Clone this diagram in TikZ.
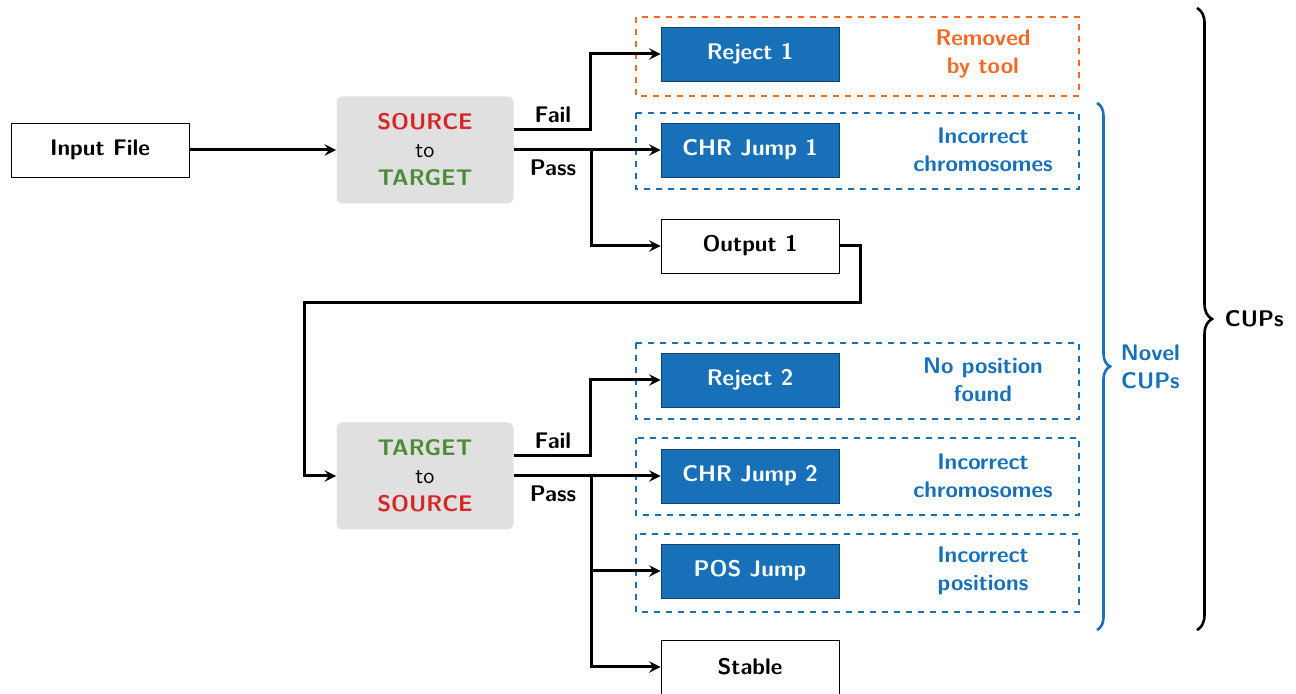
\documentclass[tikz,border=0pt]{standalone}
\usetikzlibrary{shapes,decorations.pathreplacing}
\usepackage{amsthm,amssymb,amsmath}

\definecolor{cupblue}{RGB}{23,112,184}
\definecolor{cuporange}{RGB}{242,107,40}
\definecolor{cupred}{RGB}{214,39,40}
\definecolor{cupgreen}{RGB}{74,140,55}

\begin{document}
\begin{tikzpicture}[x=0.5pt,y=-0.5pt,
    font=\sffamily\bfseries\fontsize{11.3}{14}\selectfont,
    %
    file/.style={rectangle, draw, fill=white, line width=0.4pt,
    minimum width=89pt, minimum height=27pt},
    jump/.style={file, fill=cupblue, draw=cupblue!60!black, text=white},
    liftover/.style={rectangle, rounded corners=3pt, fill=black!12,
    minimum width=88.5pt, minimum height=53.5pt, align=center},
    note/.style={align=center, text=cupblue},
    region/.style={draw=cupblue, dashed, line width=0.6pt},
    flow/.style={->, >=stealth, line width=1.5pt}]
    \useasboundingbox (0,0) rectangle (1296,694);

    % dashed groups round the rejected lines
    \draw[region, draw=cuporange] (636,17) rectangle (1079,96);
    \draw[region] (636,113) rectangle (1079,189);
    \draw[region] (636,343) rectangle (1079,419);
    \draw[region] (636,438) rectangle (1079,515);
    \draw[region] (636,534) rectangle (1079,612);

    \node[file] (input) at (100,150) {Input File};
    \node[liftover] (st) at (425,150)
        {\textcolor{cupred}{SOURCE}\\{\mdseries to}\\\textcolor{cupgreen}{TARGET}};
    \node[liftover] (ts) at (425,476)
        {\textcolor{cupgreen}{TARGET}\\{\mdseries to}\\\textcolor{cupred}{SOURCE}};

    \node[jump] (rej1) at (750,54) {Reject 1};
    \node[jump] (chr1) at (750,150) {CHR Jump 1};
    \node[file] (out1) at (750,246) {Output 1};
    \node[jump] (rej2) at (750,380) {Reject 2};
    \node[jump] (chr2) at (750,476) {CHR Jump 2};
    \node[jump] (pos) at (750,571) {POS Jump};
    \node[file] (stable) at (750,667) {Stable};

    \node[note, text=cuporange] (n1) at (983,54) {Removed\\by tool};
    \node[note] (n2) at (983,150) {Incorrect\\chromosomes};
    \node[note] (n3) at (983,380) {No position\\found};
    \node[note] (n4) at (983,476) {Incorrect\\chromosomes};
    \node[note] (n5) at (983,571) {Incorrect\\positions};

    \node (fail1) at (553,115) {Fail};
    \node (pass1) at (553,168) {Pass};
    \node (fail2) at (553,441) {Fail};
    \node (pass2) at (553,494) {Pass};

    \coordinate (split1) at (591,150);
    \coordinate (split2) at (591,476);

    % first pass
    \draw[flow] (input) -- (st);
    \draw[flow] ([yshift=10pt]st.east) -- ++(77,0) |- (rej1.west);
    \draw[flow] (st.east) -- (chr1.west);
    \draw[flow] (split1) |- (out1.west);

    % output goes back in
    \draw[flow] (out1.east) -- ++(21,0) |- (304,303) |- (ts.west);

    % second pass
    \draw[flow] ([yshift=10pt]ts.east) -- ++(77,0) |- (rej2.west);
    \draw[flow] (ts.east) -- (chr2.west);
    \draw[flow] (split2) |- (pos.west);
    \draw[flow] (split2) |- (stable.west);

    % braces
    \draw[cupblue, line width=1.3pt, decorate, decoration={brace, amplitude=6.5pt}]
        (1097,103) -- (1097,630) node[midway, right=8pt, note, text=cupblue] (novel) {Novel\\CUPs};
    \draw[line width=1.3pt, decorate, decoration={brace, amplitude=7.5pt}]
        (1197,8) -- (1197,630) node[midway, right=10pt] (cups) {CUPs};
\end{tikzpicture}
\end{document}
